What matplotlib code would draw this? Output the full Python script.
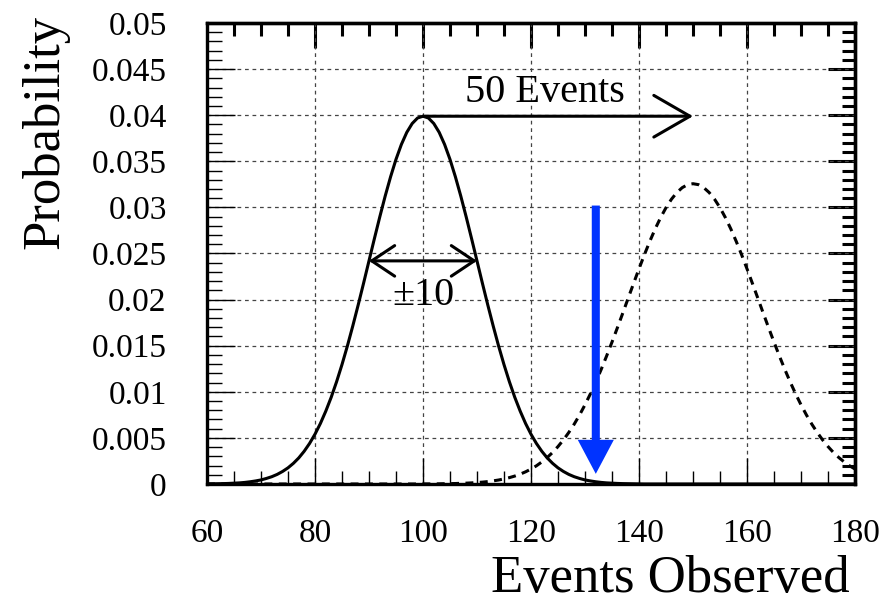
import matplotlib
matplotlib.use('Agg')
import matplotlib.pyplot as plt
from matplotlib.ticker import MultipleLocator, FixedLocator, FixedFormatter
from matplotlib.patches import FancyArrowPatch

plt.rcParams['font.family'] = ['Liberation Serif', 'DejaVu Serif']

# number of events observed, one point per event
events = list(range(60, 181))

# expected background only (mean 100)
bkg_prob = [
    0.00001, 0.00002, 0.00003, 0.00004, 0.00006, 0.00009, 0.00012, 0.00017, 0.00024, 0.00033,
    0.00044, 0.00060, 0.00079, 0.00104, 0.00136, 0.00175, 0.00224, 0.00283, 0.00355, 0.00440,
    0.00540, 0.00656, 0.00790, 0.00940, 0.01109, 0.01295, 0.01497, 0.01714, 0.01942, 0.02178,
    0.02420, 0.02661, 0.02897, 0.03123, 0.03332, 0.03521, 0.03683, 0.03814, 0.03910, 0.03970,
    0.03989,
    0.03970, 0.03910, 0.03814, 0.03683, 0.03521, 0.03332, 0.03123, 0.02897, 0.02661, 0.02420,
    0.02178, 0.01942, 0.01714, 0.01497, 0.01295, 0.01109, 0.00940, 0.00790, 0.00656, 0.00540,
    0.00440, 0.00355, 0.00283, 0.00224, 0.00175, 0.00136, 0.00104, 0.00079, 0.00060, 0.00044,
    0.00033, 0.00024, 0.00017, 0.00012, 0.00009, 0.00006, 0.00004, 0.00003, 0.00002, 0.00001,
    0, 0, 0, 0, 0, 0, 0, 0, 0, 0,
    0, 0, 0, 0, 0, 0, 0, 0, 0, 0,
    0, 0, 0, 0, 0, 0, 0, 0, 0, 0,
    0, 0, 0, 0, 0, 0, 0, 0, 0, 0,
]

# background plus signal (mean 150)
sig_prob = [
    0, 0, 0, 0, 0, 0, 0, 0, 0, 0,
    0, 0, 0, 0, 0, 0, 0, 0, 0, 0,
    0, 0, 0, 0, 0, 0, 0, 0, 0, 0,
    0, 0, 0, 0, 0, 0, 0, 0, 0, 0,
    0.00001, 0.00001, 0.00001, 0.00002, 0.00003, 0.00004, 0.00005, 0.00007, 0.00009, 0.00012,
    0.00016, 0.00020, 0.00026, 0.00034, 0.00043, 0.00055, 0.00069, 0.00086, 0.00107, 0.00132,
    0.00162, 0.00197, 0.00239, 0.00287, 0.00342, 0.00406, 0.00478, 0.00559, 0.00649, 0.00749,
    0.00859, 0.00978, 0.01106, 0.01243, 0.01388, 0.01539, 0.01695, 0.01854, 0.02016, 0.02176,
    0.02334, 0.02487, 0.02632, 0.02767, 0.02889, 0.02997, 0.03088, 0.03161, 0.03214, 0.03247,
    0.03257,
    0.03247, 0.03214, 0.03161, 0.03088, 0.02997, 0.02889, 0.02767, 0.02632, 0.02487, 0.02334,
    0.02176, 0.02016, 0.01854, 0.01695, 0.01539, 0.01388, 0.01243, 0.01106, 0.00978, 0.00859,
    0.00749, 0.00649, 0.00559, 0.00478, 0.00406, 0.00342, 0.00287, 0.00239, 0.00197, 0.00162,
]

bkg_mean = 100
bkg_sigma = 10
shift = 50

# cut position and the arrow marking it
cut_x = 132
cut_top = 0.0302
cut_bottom = 0.0011

x_ticks = [60, 80, 100, 120, 140, 160, 180]
y_ticks = [0, 0.005, 0.01, 0.015, 0.02, 0.025, 0.03, 0.035, 0.04, 0.045, 0.05]
y_labels = ['0', '0.005', '0.01', '0.015', '0.02', '0.025', '0.03', '0.035',
            '0.04', '0.045', '0.05']

fig = plt.figure(figsize=(8.83, 6.04), dpi=100)
ax = fig.add_axes([0.2344, 0.1987, 0.7339, 0.7632])

ax.plot(events, bkg_prob, color='black', lw=2.2, solid_joinstyle='round')
ax.plot(events, sig_prob, color='black', lw=2.2, dashes=(2.6, 2.1))

ax.set_xlim(60, 180)
ax.set_ylim(0, 0.05)

ax.xaxis.set_major_locator(FixedLocator(x_ticks))
ax.xaxis.set_minor_locator(MultipleLocator(5))
ax.yaxis.set_major_locator(FixedLocator(y_ticks))
ax.yaxis.set_major_formatter(FixedFormatter(y_labels))
ax.yaxis.set_minor_locator(MultipleLocator(0.001))

ax.tick_params(which='both', direction='in', top=False, right=False,
               labelsize=24, width=1.0, color='black')
ax.tick_params(axis='x', which='major', length=19, pad=25)
ax.tick_params(axis='x', which='minor', length=9.5)
ax.tick_params(axis='y', which='major', length=20, pad=29)
ax.tick_params(axis='y', which='minor', length=10.5)

ax.set_axisbelow(True)
ax.grid(True, which='major', color='#444444', lw=0.9, linestyle=(0, (3, 3)))

for sp in ax.spines.values():
    sp.set_linewidth(2.4)

# thicker ticks along the top and right edges
top = ax.secondary_xaxis('top')
top.xaxis.set_major_locator(FixedLocator(x_ticks))
top.xaxis.set_minor_locator(MultipleLocator(5))
top.tick_params(which='both', direction='in', labeltop=False, width=2.2)
top.tick_params(which='major', length=18)
top.tick_params(which='minor', length=9)
top.spines['top'].set_linewidth(2.4)

right = ax.secondary_yaxis('right')
right.yaxis.set_major_locator(FixedLocator(y_ticks))
right.yaxis.set_minor_locator(MultipleLocator(0.001))
right.tick_params(which='both', direction='in', labelright=False, width=2.2)
right.tick_params(which='major', length=19.5)
right.tick_params(which='minor', length=9.5)
right.spines['right'].set_linewidth(2.4)

# shift between the two peaks
peak = max(bkg_prob)
ax.add_patch(FancyArrowPatch((bkg_mean, peak), (bkg_mean + shift, peak),
                             arrowstyle='->, head_length=26, head_width=15',
                             mutation_scale=1, lw=2.2, color='black',
                             shrinkA=0, shrinkB=0))
ax.text(122.6, 0.0414, f'{shift} Events', fontsize=29, ha='center', va='baseline')

# width of the background peak
half_y = bkg_prob[events.index(bkg_mean - bkg_sigma)]
ax.add_patch(FancyArrowPatch((bkg_mean - bkg_sigma, half_y), (bkg_mean + bkg_sigma, half_y),
                             arrowstyle='<->, head_length=16.5, head_width=11',
                             mutation_scale=1, lw=2.2, color='black',
                             shrinkA=0, shrinkB=0))
ax.text(bkg_mean, 0.0194, f'\u00b1{bkg_sigma}', fontsize=29, ha='center', va='baseline')

# cut
ax.add_patch(FancyArrowPatch((cut_x, cut_top), (cut_x, cut_bottom),
                             arrowstyle='simple, head_length=24.5, head_width=26, tail_width=5.8',
                             mutation_scale=1, lw=0, color='#0033ff',
                             shrinkA=0, shrinkB=0, zorder=4))

fig.text(0.9626, 0.002, 'Events Observed', fontsize=38, ha='right', va='bottom')
fig.text(0.052, 0.975, 'Probability', fontsize=38, ha='center', va='top', rotation=90)

fig.savefig('out.png', dpi=100)
